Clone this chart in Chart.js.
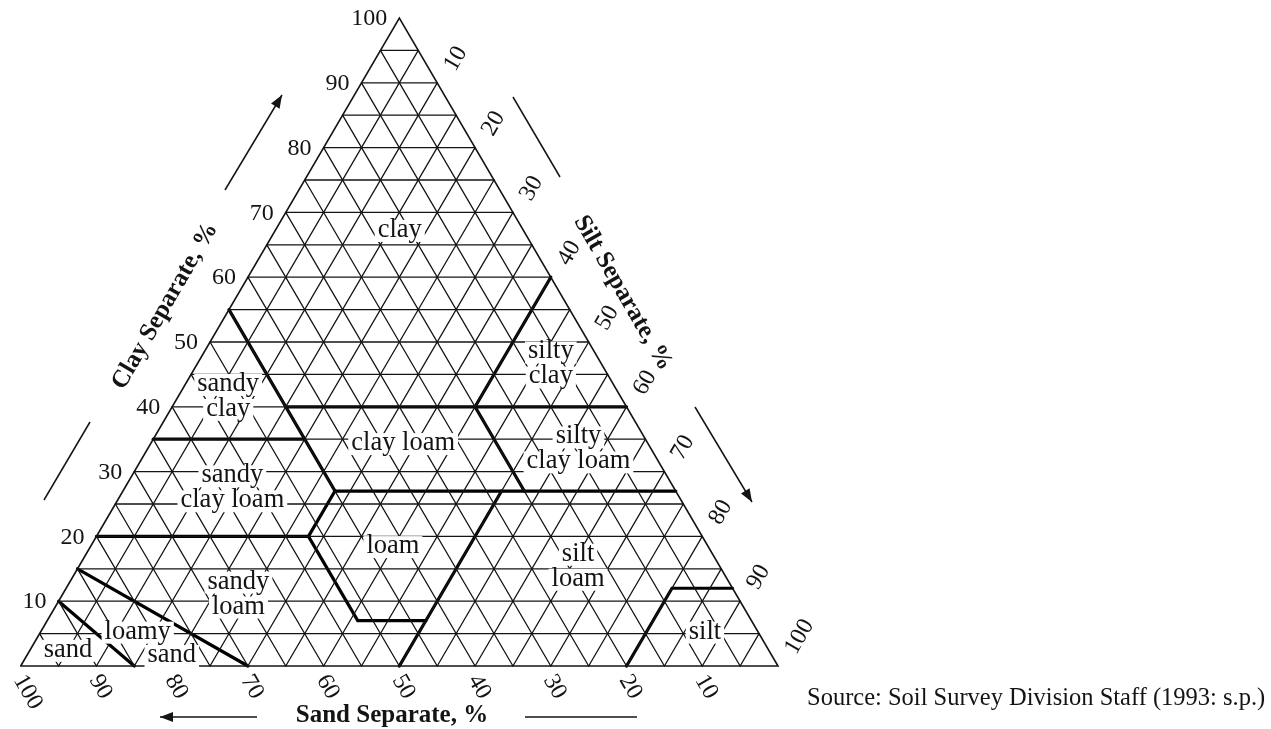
<!DOCTYPE html>
<html>
<head>
<meta charset="utf-8">
<title>Soil texture triangle</title>
<script src="https://cdn.jsdelivr.net/npm/chart.js@4/dist/chart.umd.min.js"></script>
<style>
  html, body { margin: 0; padding: 0; background: #ffffff; }
  canvas { display: block; }
</style>
</head>
<body>
<canvas id="soil" width="1271" height="729"></canvas>
<script>
// ---- data ---------------------------------------------------------------
// Tick values printed along each side of the triangle (percent).
const clayTicks = [10, 20, 30, 40, 50, 60, 70, 80, 90, 100];
const siltTicks = [10, 20, 30, 40, 50, 60, 70, 80, 90, 100];
const sandTicks = [100, 90, 80, 70, 60, 50, 40, 30, 20, 10];

// Fine grid drawn every 5 % for each of the three separates.
const gridLevels = [5, 10, 15, 20, 25, 30, 35, 40, 45, 50, 55, 60, 65, 70, 75, 80, 85, 90, 95];

// Texture class boundaries as polylines of [sand, silt, clay] compositions.
const classBoundaries = [
  [[90, 0, 10], [85, 15, 0]],
  [[85, 0, 15], [70, 30, 0]],
  [[80, 0, 20], [52, 28, 20], [52, 41, 7], [43, 50, 7]],
  [[50, 50, 0], [23, 50, 27]],
  [[52, 28, 20], [45, 28, 27], [45, 0, 55]],
  [[45, 28, 27], [0, 73, 27]],
  [[65, 0, 35], [45, 20, 35]],
  [[45, 15, 40], [0, 60, 40]],
  [[0, 40, 60], [20, 40, 40], [20, 53, 27]],
  [[20, 80, 0], [8, 80, 12], [0, 88, 12]]
];

// Texture class names and the composition [sand, silt, clay] where each is written.
const classNames = [
  'clay', 'sandy\nclay', 'silty\nclay', 'clay loam', 'silty\nclay loam',
  'sandy\nclay loam', 'loam', 'silt\nloam', 'sandy\nloam', 'loamy', 'sand', 'sand', 'silt'
];
const classCentres = [
  [16.3, 16.4, 67.3], [51.8, 6.6, 41.6], [6.7, 46.7, 46.6], [32.3, 33.3, 34.4], [9.6, 56.9, 33.5],
  [58.3, 14.2, 27.5], [41.6, 39.9, 18.5], [18.7, 65.9, 15.4], [65.7, 23.2, 11.1], [81.9, 12.8, 5.3],
  [92.5, 5.0, 2.5], [79.2, 19.1, 1.7], [7.0, 87.7, 5.3]
];

const axisTitles = ['Clay Separate, %', 'Silt Separate, %', 'Sand Separate, %'];
const sourceNote = 'Source: Soil Survey Division Staff (1993: s.p.)';

// ---- helpers --------------------------------------------------------------
const SERIF = '"Liberation Serif", "Times New Roman", Times, serif';
const INK = '#141414';

// Ternary composition -> plane coordinates (x along the base, y = clay).
function toXY(sand, silt, clay) {
  return { x: silt + clay / 2, y: clay };
}

function lineSet(points, width, color) {
  return {
    data: points.map(p => toXY(p[0], p[1], p[2])),
    showLine: true,
    borderColor: color,
    borderWidth: width,
    pointRadius: 0,
    pointHoverRadius: 0,
    fill: false,
    tension: 0,
    clip: false,
    borderCapStyle: 'round',
    borderJoinStyle: 'miter'
  };
}

const datasets = [];
// constant clay (horizontal), constant sand and constant silt grid lines
gridLevels.forEach(v => {
  datasets.push(lineSet([[100 - v, 0, v], [0, 100 - v, v]], 1.3, INK));
  datasets.push(lineSet([[v, 100 - v, 0], [v, 0, 100 - v]], 1.3, INK));
  datasets.push(lineSet([[100 - v, v, 0], [0, v, 100 - v]], 1.3, INK));
});
// outline of the triangle
datasets.push(lineSet([[100, 0, 0], [0, 100, 0], [0, 0, 100], [100, 0, 0]], 1.6, INK));
// class boundaries
classBoundaries.forEach(b => datasets.push(lineSet(b, 3.2, '#000000')));

// ---- annotation drawing ----------------------------------------------------
function pixelOf(chart, comp) {
  const p = toXY(comp[0], comp[1], comp[2]);
  return [chart.scales.x.getPixelForValue(p.x), chart.scales.y.getPixelForValue(p.y)];
}

function arrow(ctx, x1, y1, x2, y2, head) {
  ctx.beginPath();
  ctx.moveTo(x1, y1);
  ctx.lineTo(x2, y2);
  ctx.stroke();
  if (!head) return;
  const a = Math.atan2(y2 - y1, x2 - x1);
  const len = 13, half = 5;
  ctx.beginPath();
  ctx.moveTo(x2, y2);
  ctx.lineTo(x2 - len * Math.cos(a) + half * Math.sin(a), y2 - len * Math.sin(a) - half * Math.cos(a));
  ctx.lineTo(x2 - len * Math.cos(a) - half * Math.sin(a), y2 - len * Math.sin(a) + half * Math.cos(a));
  ctx.closePath();
  ctx.fill();
}

const annotations = {
  id: 'annotations',
  afterDatasetsDraw(chart) {
    const ctx = chart.ctx;
    ctx.save();

    // texture class names on white patches
    ctx.font = '26.5px ' + SERIF;
    ctx.textAlign = 'center';
    ctx.textBaseline = 'middle';
    classNames.forEach((name, i) => {
      const [cx, cy] = pixelOf(chart, classCentres[i]);
      const lines = name.split('\n');
      const lh = 25;
      lines.forEach((ln, j) => {
        const y = cy + (j - (lines.length - 1) / 2) * lh;
        const w = ctx.measureText(ln).width;
        ctx.fillStyle = '#ffffff';
        ctx.fillRect(cx - w / 2 - 3, y - 10, w + 6, 22);
        ctx.fillStyle = INK;
        ctx.fillText(ln, cx, y);
      });
    });

    // tick labels
    ctx.font = '24px ' + SERIF;
    ctx.fillStyle = INK;
    ctx.textBaseline = 'middle';
    ctx.textAlign = 'right';
    clayTicks.forEach(c => {
      const [x, y] = pixelOf(chart, [100 - c, 0, c]);
      ctx.fillText(String(c), x - 12, y + 1);
    });
    ctx.textAlign = 'left';
    siltTicks.forEach(t => {
      const [x, y] = pixelOf(chart, [0, t, 100 - t]);
      ctx.save();
      ctx.translate(x + 12.5, y - 13.6);
      ctx.rotate(-Math.PI / 3);
      ctx.fillText(String(t), 0, 0);
      ctx.restore();
    });
    sandTicks.forEach(s => {
      const [x, y] = pixelOf(chart, [s, 100 - s, 0]);
      ctx.save();
      ctx.translate(x - 2, y + 10.5);
      ctx.rotate(Math.PI / 3);
      ctx.fillText(String(s), 0, 0);
      ctx.restore();
    });

    // axis titles
    ctx.font = 'bold 25px ' + SERIF;
    ctx.textAlign = 'center';
    ctx.save();
    ctx.translate(165, 306);
    ctx.rotate(-Math.PI / 3);
    ctx.fillText(axisTitles[0], 0, 0);
    ctx.restore();
    ctx.save();
    ctx.translate(623, 293);
    ctx.rotate(Math.PI / 3);
    ctx.fillText(axisTitles[1], 0, 0);
    ctx.restore();
    ctx.fillText(axisTitles[2], 392, 716);

    // direction arrows and guide strokes beside each side
    ctx.strokeStyle = INK;
    ctx.fillStyle = INK;
    ctx.lineWidth = 1.5;
    arrow(ctx, 225, 190, 282, 95, true);
    arrow(ctx, 44, 500, 90, 422, false);
    arrow(ctx, 513, 97, 560, 177, false);
    arrow(ctx, 695, 407, 752, 502, true);
    arrow(ctx, 257, 717, 160, 717, true);
    arrow(ctx, 525, 717, 637, 717, false);

    // source note
    ctx.font = '24.5px ' + SERIF;
    ctx.textAlign = 'left';
    ctx.textBaseline = 'alphabetic';
    ctx.fillText(sourceNote, 807, 705);

    ctx.restore();
  }
};

new Chart(document.getElementById('soil'), {
  type: 'scatter',
  data: { datasets },
  options: {
    responsive: false,
    animation: false,
    events: [],
    layout: { padding: { left: 20.7, right: 1271 - 778, top: 18, bottom: 729 - 666 } },
    plugins: { legend: { display: false }, tooltip: { enabled: false } },
    scales: {
      x: { type: 'linear', min: 0, max: 100, display: false },
      y: { type: 'linear', min: 0, max: 100, display: false }
    }
  },
  plugins: [annotations]
});
</script>
</body>
</html>
